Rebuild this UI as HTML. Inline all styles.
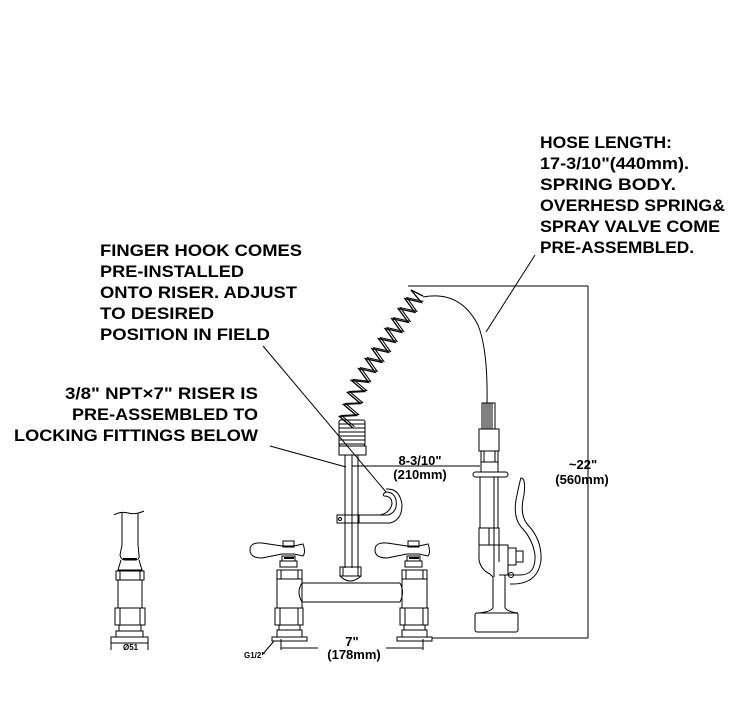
<!DOCTYPE html>
<html><head><meta charset="utf-8"><style>
html,body{margin:0;padding:0;background:#fff}
svg{display:block}
.t{font-family:"Liberation Sans",Arial,sans-serif;font-weight:bold;font-size:17px;fill:#000}
.s{font-family:"Liberation Sans",Arial,sans-serif;font-weight:bold;font-size:13px;fill:#000}
</style></head><body>
<svg width="751" height="706" viewBox="0 0 751 706" xmlns="http://www.w3.org/2000/svg">
<g fill="none" stroke="#000" stroke-width="1">
<line x1="408" y1="286" x2="588" y2="286"/>
<line x1="588" y1="286" x2="588" y2="638"/>
<line x1="432" y1="638" x2="588" y2="638"/>
<line x1="263" y1="346" x2="386" y2="492"/>
<line x1="270" y1="446" x2="346" y2="467"/>
<line x1="535" y1="255" x2="486" y2="332"/>
<polyline stroke-width="1.3" points="352.6,427.6 339.4,416.4 356.6,415.6 343.4,404.4 360.6,403.6 347.4,392.4 364.6,391.6 351.4,380.4 368.6,382.4 358.7,368.6 375.2,372.4 365.3,358.6 381.8,362.4 371.9,348.6 388.4,352.4 378.5,338.6 395,342.4 385.1,328.6 401.6,332.4 391.7,318.6 408.2,322.4 398.3,308.6 414.8,312.4 404.9,298.6 421.4,302.4 411,290 423,296"/>
<polyline stroke-width="1" transform="translate(2,-1)" points="352.6,427.6 339.4,416.4 356.6,415.6 343.4,404.4 360.6,403.6 347.4,392.4 364.6,391.6 351.4,380.4 368.6,382.4 358.7,368.6 375.2,372.4 365.3,358.6 381.8,362.4 371.9,348.6 388.4,352.4 378.5,338.6 395,342.4 385.1,328.6 401.6,332.4 391.7,318.6 408.2,322.4 398.3,308.6 414.8,312.4 404.9,298.6 421.4,302.4"/>
<rect x="339" y="420" width="26" height="26" rx="2"/>
<path d="M339 424h26M339 428h26M339 432h26M339 436h26M339 440h26M339 444h26"/>
<rect x="339" y="446" width="27" height="9"/>
<path d="M345 455V568M352 455V568M358 455V568"/>
<line x1="352" y1="466" x2="480" y2="466"/>
<rect x="337" y="515" width="22" height="8"/>
<circle cx="340" cy="519" r="1.5"/>
<path d="M359 515H388Q398 512 396 500Q394 492 386 492Q382 494 384 496Q392 496 392 504Q390 513 380 515M359 523H390Q402 520 402 505Q400 488 386 489"/>
<rect x="340" y="567" width="21" height="9"/>
<path d="M343 567v9M358 567v9M340 576Q350 586 361 576"/>
<path d="M302 583H400M302 602H400M302 583Q296 592 302 602M400 583Q405 592 400 602"/>
<g>
<path d="M250 550Q250 542 262 543L282 546H294L303 544Q306 552 303 556L294 554H282L262 558Q250 558 250 550Z"/>
<rect x="283" y="541" width="11" height="6"/>
<rect x="282" y="556" width="13" height="5"/>
<rect x="280" y="561" width="17" height="6"/>
<rect x="277" y="570" width="25" height="9"/>
<path d="M281 570v9M298 570v9"/>
<rect x="277" y="579" width="25" height="29"/>
<rect x="275" y="608" width="28" height="17"/>
<path d="M280 608v17M298 608v17"/>
<rect x="279" y="625" width="21" height="5"/>
<rect x="277" y="630" width="25" height="7"/>
<rect x="272" y="637" width="35" height="4"/>
</g>
<g transform="translate(125,0)">
<path d="M250 550Q250 542 262 543L282 546H294L303 544Q306 552 303 556L294 554H282L262 558Q250 558 250 550Z"/>
<rect x="283" y="541" width="11" height="6"/>
<rect x="282" y="556" width="13" height="5"/>
<rect x="280" y="561" width="17" height="6"/>
<rect x="277" y="570" width="25" height="9"/>
<path d="M281 570v9M298 570v9"/>
<rect x="277" y="579" width="25" height="29"/>
<rect x="275" y="608" width="28" height="17"/>
<path d="M280 608v17M298 608v17"/>
<rect x="279" y="625" width="21" height="5"/>
<rect x="277" y="630" width="25" height="7"/>
<rect x="272" y="637" width="35" height="4"/>
</g>
<path d="M281 639V650M423 639V650M281 648H318M386 648H423"/>
<line x1="262" y1="655" x2="274" y2="641"/>
<path d="M423 297Q460 290 478 325Q488 350 487 403"/>
<rect x="482" y="403" width="13" height="26"/>
<path d="M484 403v26M486 403v26M488 403v26M490 403v26M492 403v26"/>
<rect x="479" y="429" width="20" height="22"/>
<rect x="481" y="451" width="17" height="11"/>
<path d="M484 451v11M495 451v11"/>
<rect x="481" y="462" width="17" height="10"/>
<rect x="473" y="472" width="35" height="5" rx="2.5"/>
<path d="M480 477V528M498 477V528M494 477V577"/>
<rect x="479" y="528" width="20" height="17"/>
<path d="M489 528v17"/>
<path d="M479 545V560Q481 570 490 574L493 577M499 545V562"/>
<path d="M499 545H508V575H499"/>
<rect x="508" y="548" width="8" height="17"/>
<rect x="516" y="551" width="7" height="11"/>
<circle cx="511" cy="575" r="2.5"/>
<path d="M508 575H520Q536 575 535 555Q533 540 522 528Q513 518 516 500Q520 480 521 478Q526 478 524 495Q519 515 528 525Q542 540 541 560Q538 585 510 584"/>
<path d="M493 577V608M505 575V608M493 608Q490 612 478 613M505 608Q508 612 518 613"/>
<rect x="475" y="613" width="43" height="19" rx="2"/>
<path d="M114 515Q120 511 128 513Q136 515 144 511"/>
<path d="M122 513V545M138 513V545"/>
<path d="M122 545L120 555Q121 560 125 560H135Q140 560 139 555L138 545"/>
<path d="M121 560L118 570H142L139 560"/>
<rect x="116" y="571" width="28" height="9"/>
<path d="M120 571v9M140 571v9"/>
<rect x="118" y="580" width="24" height="28"/>
<rect x="115" y="608" width="30" height="17"/>
<path d="M120 608v17M140 608v17"/>
<rect x="119" y="625" width="22" height="6"/>
<rect x="116" y="631" width="27" height="6"/>
<path d="M111 650V637H148V650"/>
<line x1="111" y1="643" x2="148" y2="643"/>
</g>
<g fill="#000" stroke="none">
<rect x="123" y="558" width="14" height="2"/>
<rect x="284" y="557" width="10" height="2"/>
<rect x="409" y="557" width="10" height="2"/>
</g>
<text class="t" x="540" y="148" textLength="132" lengthAdjust="spacingAndGlyphs">HOSE LENGTH:</text>
<text class="t" x="540" y="169" textLength="149" lengthAdjust="spacingAndGlyphs">17-3/10"(440mm).</text>
<text class="t" x="540" y="190" textLength="136" lengthAdjust="spacingAndGlyphs">SPRING BODY.</text>
<text class="t" x="540" y="211" textLength="185" lengthAdjust="spacingAndGlyphs">OVERHESD SPRING&amp;</text>
<text class="t" x="540" y="232" textLength="180" lengthAdjust="spacingAndGlyphs">SPRAY VALVE COME</text>
<text class="t" x="540" y="253" textLength="154" lengthAdjust="spacingAndGlyphs">PRE-ASSEMBLED.</text>
<text class="t" x="100" y="256" textLength="202" lengthAdjust="spacingAndGlyphs">FINGER HOOK COMES</text>
<text class="t" x="100" y="277" textLength="144" lengthAdjust="spacingAndGlyphs">PRE-INSTALLED</text>
<text class="t" x="100" y="298" textLength="197" lengthAdjust="spacingAndGlyphs">ONTO RISER. ADJUST</text>
<text class="t" x="100" y="319" textLength="114" lengthAdjust="spacingAndGlyphs">TO DESIRED</text>
<text class="t" x="100" y="340" textLength="170" lengthAdjust="spacingAndGlyphs">POSITION IN FIELD</text>
<text class="t" x="65" y="399" textLength="193" lengthAdjust="spacingAndGlyphs">3/8" NPT×7" RISER IS</text>
<text class="t" x="72" y="420" textLength="186" lengthAdjust="spacingAndGlyphs">PRE-ASSEMBLED TO</text>
<text class="t" x="14" y="441" textLength="244" lengthAdjust="spacingAndGlyphs">LOCKING FITTINGS BELOW</text>
<text class="s" x="420" y="465" text-anchor="middle">8-3/10"</text>
<text class="s" x="420" y="479" text-anchor="middle">(210mm)</text>
<text class="s" x="583" y="469" text-anchor="middle">~22"</text>
<text class="s" x="582" y="484" text-anchor="middle">(560mm)</text>
<text class="s" x="352" y="646" text-anchor="middle">7"</text>
<text class="s" x="354" y="659" text-anchor="middle">(178mm)</text>
<text class="s" x="244" y="658" style="font-size:8px">G1/2"</text>
<text class="s" x="123" y="650" style="font-size:8px">Ø51</text>
</svg>
</body></html>
